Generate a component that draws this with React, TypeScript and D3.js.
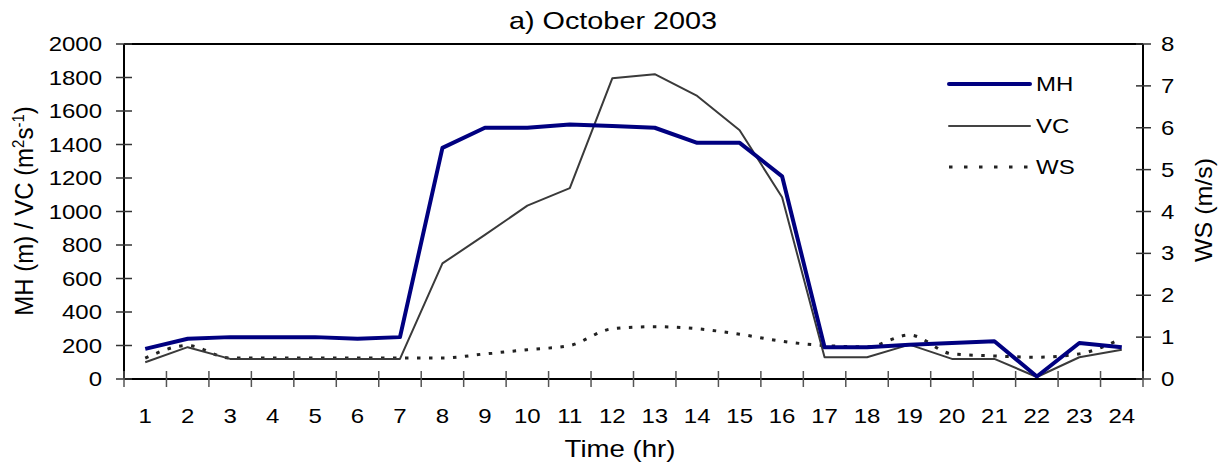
import React from "react";
import * as d3 from "d3";

// Hourly series, October 2003
const hours = [1, 2, 3, 4, 5, 6, 7, 8, 9, 10, 11, 12, 13, 14, 15, 16, 17, 18, 19, 20, 21, 22, 23, 24];
// Mixing height (m)
const mhValues = [180, 240, 250, 250, 250, 240, 250, 1380, 1500, 1500, 1520, 1510, 1500, 1410, 1410, 1210, 190, 190, 205, 215, 225, 15, 215, 190];
// Ventilation coefficient (m2 s-1)
const vcValues = [100, 190, 120, 120, 120, 120, 120, 690, 860, 1035, 1140, 1795, 1820, 1690, 1485, 1085, 130, 130, 205, 120, 120, 12, 130, 175];
// Wind speed (m/s)
const wsValues = [0.5, 0.8, 0.5, 0.5, 0.5, 0.5, 0.5, 0.5, 0.6, 0.7, 0.8, 1.2, 1.25, 1.2, 1.07, 0.9, 0.8, 0.77, 1.05, 0.6, 0.55, 0.52, 0.6, 0.97];

const leftTicks = [0, 200, 400, 600, 800, 1000, 1200, 1400, 1600, 1800, 2000];
const rightTicks = [0, 1, 2, 3, 4, 5, 6, 7, 8];

const W = 1226;
const H = 468;
const plot = { left: 124, right: 1143, top: 44, bottom: 379 };
const SX = 1.2; // horizontal stretch of the lettering
const FONT = "'Liberation Sans', Arial, sans-serif";

type TProps = {
  x: number;
  y: number;
  size: number;
  anchor?: "start" | "middle" | "end";
  rotated?: boolean;
  stretch?: number;
  children: React.ReactNode;
};

function SText({ x, y, size, anchor = "middle", rotated = false, stretch = SX, children }: TProps) {
  const tf = rotated
    ? `translate(${x},${y}) rotate(-90) scale(1,${stretch})`
    : `translate(${x},${y}) scale(${stretch},1)`;
  return (
    <text transform={tf} textAnchor={anchor} fontSize={size} fontFamily={FONT} fill="#000">
      {children}
    </text>
  );
}

export default function App() {
  const x = d3.scaleBand<number>().domain(hours).range([plot.left, plot.right]).paddingInner(0).paddingOuter(0);
  const step = x.step();
  const cx = (h: number) => (x(h) as number) + step / 2;
  const yL = d3.scaleLinear().domain([0, 2000]).range([plot.bottom, plot.top]);
  const yR = d3.scaleLinear().domain([0, 8]).range([plot.bottom, plot.top]);

  const lineL = d3
    .line<number>()
    .x((_, i) => cx(hours[i]))
    .y((d) => yL(d));
  const lineR = d3
    .line<number>()
    .x((_, i) => cx(hours[i]))
    .y((d) => yR(d))
    .curve(d3.curveMonotoneX);

  const xTickPos = d3.range(hours.length + 1).map((i) => plot.left + i * step);

  const legend = [
    { name: "MH", stroke: "#000080", width: 4, dash: undefined as string | undefined },
    { name: "VC", stroke: "#444", width: 2, dash: undefined as string | undefined },
    { name: "WS", stroke: "#222", width: 3, dash: "3.5,11.5" },
  ];
  const legendY = [84, 126, 167];

  return (
    <svg
      width={W}
      height={H}
      style={{ position: "absolute", left: 0, top: 0, background: "#fff" }}
      xmlns="http://www.w3.org/2000/svg"
    >
      <rect x={0} y={0} width={W} height={H} fill="#fff" />

      {/* title */}
      <SText x={613} y={29} size={24}>
        a) October 2003
      </SText>

      {/* series */}
      <path d={lineR(wsValues) || ""} fill="none" stroke="#222" strokeWidth={3} strokeDasharray="3.5,8.5" />
      <path d={lineL(vcValues) || ""} fill="none" stroke="#3a3a3a" strokeWidth={2} strokeLinejoin="round" />
      <path d={lineL(mhValues) || ""} fill="none" stroke="#000080" strokeWidth={4} strokeLinejoin="round" />

      {/* frame */}
      <line x1={plot.left} x2={plot.right} y1={plot.top} y2={plot.top} stroke="#000" strokeWidth={2} />
      <line x1={plot.left} x2={plot.left} y1={plot.top} y2={plot.bottom} stroke="#000" strokeWidth={2} />
      <line x1={plot.right} x2={plot.right} y1={plot.top} y2={plot.bottom} stroke="#000" strokeWidth={2} />
      <line x1={plot.left} x2={plot.right} y1={plot.bottom} y2={plot.bottom} stroke="#000" strokeWidth={2} />

      {/* left axis */}
      {leftTicks.map((t) => (
        <g key={`l${t}`}>
          <line x1={plot.left - 8} x2={plot.left + 8} y1={yL(t)} y2={yL(t)} stroke="#333" strokeWidth={1.5} />
          <SText x={102} y={yL(t) + 7} size={20} anchor="end">
            {t}
          </SText>
        </g>
      ))}

      {/* right axis */}
      {rightTicks.map((t) => (
        <g key={`r${t}`}>
          <line x1={plot.right - 7} x2={plot.right + 8} y1={yR(t)} y2={yR(t)} stroke="#333" strokeWidth={1.5} />
          <SText x={1161} y={yR(t) + 7} size={20} anchor="start">
            {t}
          </SText>
        </g>
      ))}

      {/* bottom axis */}
      {xTickPos.map((p, i) => (
        <line key={`xt${i}`} x1={p} x2={p} y1={plot.bottom - 8} y2={plot.bottom + 8} stroke="#555" strokeWidth={1.5} />
      ))}
      {hours.map((h) => (
        <SText key={`xl${h}`} x={cx(h)} y={423} size={20}>
          {h}
        </SText>
      ))}

      {/* axis titles */}
      <SText x={620} y={457} size={23}>
        Time (hr)
      </SText>
      <SText x={33} y={211} size={24} rotated stretch={1.05}>
        MH (m) / VC (m
        <tspan fontSize={15} dy={-9}>2</tspan>
        <tspan dy={9}>s</tspan>
        <tspan fontSize={15} dy={-9}>-1</tspan>
        <tspan dy={9}>)</tspan>
      </SText>
      <SText x={1212} y={210} size={25} rotated stretch={0.98}>
        WS (m/s)
      </SText>

      {/* legend */}
      {legend.map((l, i) => (
        <g key={l.name}>
          <line
            x1={949}
            x2={1030}
            y1={legendY[i]}
            y2={legendY[i]}
            stroke={l.stroke}
            strokeWidth={l.width}
            strokeDasharray={l.dash}
            strokeLinecap={l.dash ? "butt" : "round"}
          />
          <SText x={1036} y={legendY[i] + 7} size={20} anchor="start">
            {l.name}
          </SText>
        </g>
      ))}
    </svg>
  );
}
